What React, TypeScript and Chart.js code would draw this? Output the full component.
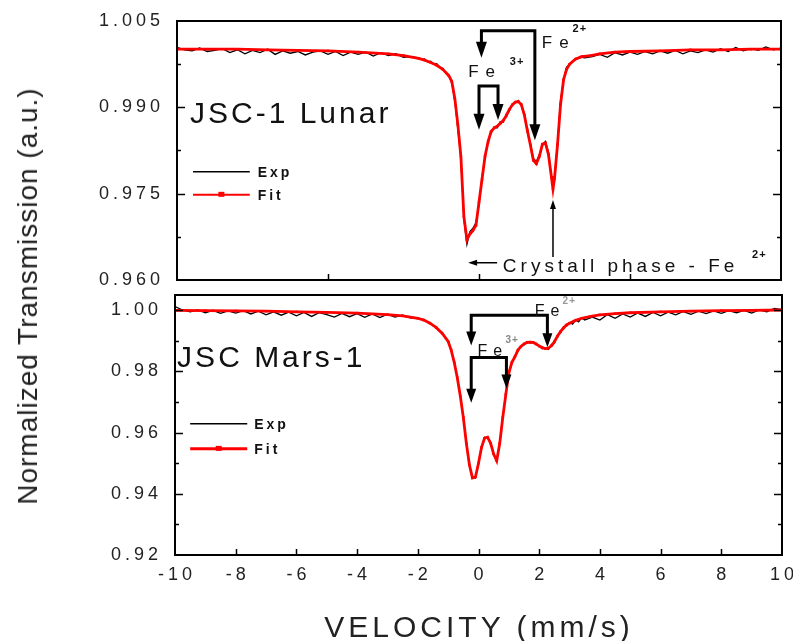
import React, { useEffect, useRef } from 'react';
import { Chart, registerables } from 'chart.js';

Chart.register(...registerables);

const FONT = '"Liberation Sans", Arial, Helvetica, sans-serif';

// ---------- data ----------
const expVelocity = [
  -10, -9.75, -9.5, -9.25, -9, -8.75, -8.5, -8.25, -8, -7.75, -7.5, -7.25, -7, -6.75, -6.5, -6.25,
  -6, -5.75, -5.5, -5.25, -5, -4.75, -4.5, -4.25, -4, -3.75, -3.5, -3.25, -3, -2.75, -2.5, -2.25,
  -2.0, -1.9, -1.8, -1.7, -1.6, -1.5, -1.4, -1.3, -1.2, -1.1,
  -1.0, -0.9, -0.8, -0.7, -0.6, -0.5, -0.4, -0.3, -0.2, -0.1,
  0.0, 0.1, 0.2, 0.3, 0.4, 0.5, 0.6, 0.7, 0.8, 0.9,
  1.0, 1.1, 1.2, 1.3, 1.4, 1.5, 1.6, 1.7, 1.8, 1.9,
  2.0, 2.1, 2.2, 2.3, 2.4, 2.5, 2.6, 2.7, 2.8, 2.9,
  3.0, 3.1, 3.2, 3.3, 3.4, 3.5,
  3.75, 4.0, 4.25, 4.5, 4.75, 5.0, 5.25, 5.5, 5.75, 6.0, 6.25, 6.5, 6.75,
  7.0, 7.25, 7.5, 7.75, 8.0, 8.25, 8.5, 8.75, 9.0, 9.25, 9.5, 9.75, 10.0,
];

const lunarExp = [
  1.0004, 1.0000, 0.9998, 1.0003, 0.9997, 0.9999, 1.0002, 0.9995, 1.0000, 0.9993, 0.9999, 0.9995, 1.0001, 0.9992, 0.9998, 0.9994,
  0.9997, 0.9991, 0.9996, 0.9998, 0.9992, 0.9997, 0.9990, 0.9996, 0.9992, 0.9996, 0.9989, 0.9995, 0.9990, 0.9993, 0.9987, 0.9988,
  0.9986, 0.9983, 0.9984, 0.9979, 0.9980, 0.9975, 0.9976, 0.9970, 0.9968, 0.9960,
  0.9955, 0.9942, 0.9912, 0.9862, 0.9812, 0.9705, 0.9662, 0.9684, 0.9690, 0.9700,
  0.9730, 0.9780, 0.9812, 0.9843, 0.9855, 0.9866, 0.9864, 0.9875, 0.9874, 0.9888,
  0.9893, 0.9906, 0.9908, 0.9912, 0.9903, 0.9889, 0.9857, 0.9838, 0.9811, 0.9806,
  0.9818, 0.9835, 0.9841, 0.9822, 0.9780, 0.9778, 0.9838, 0.9912, 0.9948, 0.9970,
  0.9974, 0.9980, 0.9983, 0.9985, 0.9987, 0.9986,
  0.9988, 0.9992, 0.9987, 0.9995, 0.9991, 0.9996, 0.9992, 0.9997, 0.9993, 0.9998, 0.9994, 0.9999, 0.9993,
  0.9998, 0.9995, 1.0000, 0.9996, 1.0002, 0.9997, 1.0004, 0.9998, 1.0002, 0.9999, 1.0005, 1.0000, 1.0003,
];

const marsExp = [
  1.0012, 1.0001, 0.9995, 1.0001, 0.9992, 1.0000, 0.9990, 0.9998, 0.9991, 0.9999, 0.9988, 0.9997, 0.9985, 0.9995, 0.9984, 0.9994,
  0.9982, 0.9993, 0.9980, 0.9992, 0.9986, 0.9978, 0.9990, 0.9979, 0.9989, 0.9977, 0.9988, 0.9976, 0.9987, 0.9978, 0.9984, 0.9975,
  0.9976, 0.9971, 0.9970, 0.9963, 0.9960, 0.9950, 0.9946, 0.9934, 0.9928, 0.9912,
  0.9900, 0.9868, 0.9832, 0.9778, 0.9722, 0.9648, 0.9568, 0.9492, 0.9455, 0.9452,
  0.9503, 0.9549, 0.9585, 0.9582, 0.9568, 0.9527, 0.9512, 0.9562, 0.9653, 0.9722,
  0.9798, 0.9827, 0.9852, 0.9866, 0.9885, 0.9887, 0.9898, 0.9893, 0.9897, 0.9887,
  0.9885, 0.9874, 0.9878, 0.9872, 0.9887, 0.9893, 0.9918, 0.9926, 0.9945, 0.9948,
  0.9960, 0.9955, 0.9969, 0.9962, 0.9976, 0.9968,
  0.9978, 0.9968, 0.9986, 0.9974, 0.9988, 0.9978, 0.9991, 0.9980, 0.9993, 0.9982, 0.9994, 0.9985, 0.9996,
  0.9987, 0.9997, 0.9989, 0.9998, 0.9990, 0.9999, 0.9992, 1.0000, 0.9991, 1.0001, 0.9995, 1.0006, 1.0002,
];

const fitVelocity = [
  -10, -9, -8, -7, -6, -5, -4, -3, -2.5, -2, -1.8, -1.6, -1.4, -1.2,
  -1.0, -0.9, -0.8, -0.7, -0.6, -0.5, -0.4, -0.3, -0.2, -0.1,
  0.0, 0.1, 0.2, 0.3, 0.4, 0.5, 0.6, 0.7, 0.8, 0.9,
  1.0, 1.1, 1.2, 1.3, 1.4, 1.5, 1.6, 1.7, 1.8, 1.9,
  2.0, 2.1, 2.2, 2.3, 2.4, 2.45, 2.5, 2.6, 2.7, 2.8, 2.9,
  3.0, 3.2, 3.4, 3.7, 4, 4.5, 5, 6, 7, 8, 9, 10,
];

const lunarFit = [
  1.0001, 1.0001, 1.0001, 1.0000, 0.9999, 0.9998, 0.9996, 0.9993, 0.9990, 0.9985, 0.9982, 0.9978, 0.9973, 0.9966,
  0.9955, 0.9945, 0.9915, 0.9870, 0.9815, 0.9710, 0.9670, 0.9680, 0.9686, 0.9695,
  0.9735, 0.9775, 0.9815, 0.9840, 0.9858, 0.9864, 0.9867, 0.9872, 0.9877, 0.9885,
  0.9896, 0.9904, 0.9909, 0.9910, 0.9905, 0.9887, 0.9860, 0.9835, 0.9808, 0.9802,
  0.9815, 0.9836, 0.9838, 0.9818, 0.9778, 0.9758, 0.9776, 0.9835, 0.9905, 0.9948, 0.9966,
  0.9975, 0.9984, 0.9988, 0.9990, 0.9993, 0.9996, 0.9997, 0.9998, 1.0000, 1.0000, 1.0001, 1.0001,
];

const marsFit = [
  1.0000, 0.9999, 0.9998, 0.9997, 0.9995, 0.9993, 0.9991, 0.9986, 0.9982, 0.9974, 0.9968, 0.9958, 0.9944, 0.9925,
  0.9898, 0.9870, 0.9830, 0.9780, 0.9720, 0.9650, 0.9565, 0.9495, 0.9452, 0.9455,
  0.9500, 0.9552, 0.9582, 0.9585, 0.9565, 0.9530, 0.9508, 0.9565, 0.9650, 0.9725,
  0.9795, 0.9830, 0.9848, 0.9870, 0.9882, 0.9890, 0.9895, 0.9896, 0.9895, 0.9890,
  0.9883, 0.9878, 0.9875, 0.9876, 0.9884, 0.9890, 0.9897, 0.9915, 0.9930, 0.9942, 0.9952,
  0.9958, 0.9967, 0.9974, 0.9980, 0.9985, 0.9989, 0.9992, 0.9995, 0.9997, 0.9999, 1.0000, 1.0001,
];

const lunarYTicks = [0.96, 0.975, 0.99, 1.005];
const lunarYMinor = [0.9675, 0.9825, 0.9975];
const lunarXTicks = [-5, 0, 5];
const marsYTicks = [0.92, 0.94, 0.96, 0.98, 1.0];
const marsYMinor = [0.93, 0.95, 0.97, 0.99];
const marsXTicks = [-10, -8, -6, -4, -2, 0, 2, 4, 6, 8, 10];

// annotation anchors (data coordinates)
const lunarBrackets = [
  { x1: 0.08, x2: 1.85, top: 1.0033, tip1: 0.9986, tip2: 0.9843 },
  { x1: 0.0, x2: 0.63, top: 0.9937, tip1: 0.9861, tip2: 0.9878 },
];
const marsBrackets = [
  { x1: -0.24, x2: 2.27, top: 0.9984, tip1: 0.9885, tip2: 0.9879 },
  { x1: -0.24, x2: 0.92, top: 0.9846, tip1: 0.9698, tip2: 0.9744 },
];
const lunarArrows = [
  { x1: 2.45, y1: 0.9640, x2: 2.45, y2: 0.9739 },
  { x1: 0.6, y1: 0.9630, x2: -0.36, y2: 0.9630 },
];
const lunarTexts = [
  { x: 2.08, y: 1.0003, text: 'Fe', size: 17, spacing: 7, weight: 'normal', color: '#111' },
  { x: 3.1, y: 1.0031, text: '2+', size: 11, spacing: 1, weight: 'bold', color: '#111' },
  { x: -0.36, y: 0.9953, text: 'Fe', size: 17, spacing: 7, weight: 'normal', color: '#111' },
  { x: 1.02, y: 0.9974, text: '3+', size: 11, spacing: 1, weight: 'bold', color: '#111' },
  { x: 0.79, y: 0.9614, text: 'Crystall phase - Fe', size: 19, spacing: 4, weight: 'normal', color: '#111' },
  { x: 9.04, y: 0.9638, text: '2+', size: 11, spacing: 1, weight: 'bold', color: '#111' },
  { x: -9.57, y: 0.9873, text: 'JSC-1 Lunar', size: 30, spacing: 3, weight: 'normal', color: '#111' },
];
const marsTexts = [
  { x: 1.85, y: 0.9980, text: 'Fe', size: 16, spacing: 6, weight: 'normal', color: '#111' },
  { x: 2.77, y: 1.0020, text: '2+', size: 10, spacing: 1, weight: 'bold', color: '#999' },
  { x: -0.03, y: 0.9852, text: 'Fe', size: 16, spacing: 6, weight: 'normal', color: '#111' },
  { x: 0.89, y: 0.9892, text: '3+', size: 10, spacing: 1, weight: 'bold', color: '#888' },
  { x: -9.93, y: 0.9816, text: 'JSC Mars-1', size: 30, spacing: 3, weight: 'normal', color: '#111' },
];
const legendLabels = ['Exp', 'Fit'];
const lunarLegend = { x1: -9.47, x2: -7.59, tx: -7.33, yExp: 0.9788, yFit: 0.9748, fitW: 2 };
const marsLegend = { x1: -9.5, x2: -7.62, tx: -7.39, yExp: 0.9629, yFit: 0.9547, fitW: 3 };

// ---------- drawing helpers ----------
function head(ctx: CanvasRenderingContext2D, tx: number, ty: number, dx: number, dy: number, len: number, w: number) {
  const bx = tx - dx * len;
  const by = ty - dy * len;
  const nx = -dy;
  const ny = dx;
  ctx.beginPath();
  ctx.moveTo(tx, ty);
  ctx.lineTo(bx + (nx * w) / 2, by + (ny * w) / 2);
  ctx.lineTo(bx - (nx * w) / 2, by - (ny * w) / 2);
  ctx.closePath();
  ctx.fill();
}

function text(ctx: CanvasRenderingContext2D, s: string, x: number, y: number, size: number, spacing: number, weight: string, color: string) {
  ctx.font = `${weight} ${size}px ${FONT}`;
  (ctx as any).letterSpacing = `${spacing}px`;
  ctx.fillStyle = color;
  ctx.textAlign = 'left';
  ctx.textBaseline = 'alphabetic';
  ctx.fillText(s, x, y);
}

function makeOverlay(cfg: any) {
  return {
    id: 'overlay',
    beforeDraw(chart: any) {
      chart.ctx.letterSpacing = '4px';
    },
    afterDatasetsDraw(chart: any) {
      const { ctx, chartArea: a, scales } = chart;
      const x = scales.x;
      const y = scales.y;
      ctx.save();
      (ctx as any).letterSpacing = '0px';
      ctx.strokeStyle = '#000';
      ctx.lineWidth = 2;
      ctx.strokeRect(a.left, a.top, a.right - a.left, a.bottom - a.top);
      ctx.lineWidth = 1.5;
      const line = (x1: number, y1: number, x2: number, y2: number) => {
        ctx.beginPath();
        ctx.moveTo(x1, y1);
        ctx.lineTo(x2, y2);
        ctx.stroke();
      };
      cfg.yMajor.forEach((v: number) => {
        const p = Math.round(y.getPixelForValue(v)) + 0.5;
        if (p <= a.top + 2 || p >= a.bottom - 2) return;
        line(a.left, p, a.left + 8, p);
        line(a.right, p, a.right - 8, p);
      });
      cfg.yMinor.forEach((v: number) => {
        const p = Math.round(y.getPixelForValue(v)) + 0.5;
        line(a.left, p, a.left + 4, p);
        line(a.right, p, a.right - 4, p);
      });
      cfg.xMajor.forEach((v: number) => {
        const p = Math.round(x.getPixelForValue(v)) + 0.5;
        if (p <= a.left + 2 || p >= a.right - 2) return;
        line(p, a.bottom, p, a.bottom - 6);
      });
      ctx.restore();
    },
    afterDraw(chart: any) {
      const { ctx, scales } = chart;
      const x = scales.x;
      const y = scales.y;
      const px = (v: number) => x.getPixelForValue(v);
      const py = (v: number) => y.getPixelForValue(v);
      ctx.save();
      ctx.fillStyle = '#000';
      ctx.strokeStyle = '#000';
      cfg.brackets.forEach((b: any) => {
        const hl = cfg.headLen;
        const hw = cfg.headW;
        const X1 = px(b.x1);
        const X2 = px(b.x2);
        const T = py(b.top);
        const T1 = py(b.tip1);
        const T2 = py(b.tip2);
        ctx.lineWidth = 3;
        ctx.lineJoin = 'miter';
        ctx.lineCap = 'butt';
        ctx.beginPath();
        ctx.moveTo(X1, T1 - hl + 1);
        ctx.lineTo(X1, T);
        ctx.lineTo(X2, T);
        ctx.lineTo(X2, T2 - hl + 1);
        ctx.stroke();
        head(ctx, X1, T1, 0, 1, hl, hw);
        head(ctx, X2, T2, 0, 1, hl, hw);
      });
      (cfg.arrows || []).forEach((r: any) => {
        const X1 = px(r.x1);
        const Y1 = py(r.y1);
        const X2 = px(r.x2);
        const Y2 = py(r.y2);
        const L = Math.hypot(X2 - X1, Y2 - Y1);
        const dx = (X2 - X1) / L;
        const dy = (Y2 - Y1) / L;
        ctx.lineWidth = 1.5;
        ctx.beginPath();
        ctx.moveTo(X1, Y1);
        ctx.lineTo(X2 - dx * 6, Y2 - dy * 6);
        ctx.stroke();
        head(ctx, X2, Y2, dx, dy, 9, 6);
      });
      cfg.texts.forEach((t: any) => {
        text(ctx, t.text, px(t.x), py(t.y), t.size, t.spacing, t.weight, t.color);
      });
      const lg = cfg.legend;
      const lx1 = px(lg.x1);
      const lx2 = px(lg.x2);
      const ye = py(lg.yExp);
      const yf = py(lg.yFit);
      ctx.lineWidth = 1.5;
      ctx.strokeStyle = '#000';
      ctx.beginPath();
      ctx.moveTo(lx1, ye);
      ctx.lineTo(lx2, ye);
      ctx.stroke();
      ctx.strokeStyle = '#ff0000';
      ctx.fillStyle = '#ff0000';
      ctx.lineWidth = lg.fitW;
      ctx.beginPath();
      ctx.moveTo(lx1, yf);
      ctx.lineTo(lx2, yf);
      ctx.stroke();
      const mx = (lx1 + lx2) / 2;
      ctx.fillRect(mx - 3, yf - 3, 6, 5);
      text(ctx, legendLabels[0], px(lg.tx), ye + 5, 14, 3, 'bold', '#111');
      text(ctx, legendLabels[1], px(lg.tx), yf + 5, 14, 3, 'bold', '#111');
      ctx.restore();
    },
  };
}

function buildConfig(opts: any): any {
  const exp = expVelocity.map((v, i) => ({ x: v, y: opts.exp[i] }));
  const fit = fitVelocity.map((v, i) => ({ x: v, y: opts.fit[i] }));
  return {
    type: 'line',
    data: {
      datasets: [
        {
          label: 'Fit',
          data: fit,
          borderColor: '#ff0000',
          backgroundColor: '#ff0000',
          borderWidth: 2.8,
          pointStyle: 'rect',
          pointRadius: 1.7,
          pointBorderWidth: 0,
          pointBackgroundColor: '#ff0000',
          tension: 0,
        },
        {
          label: 'Exp',
          data: exp,
          borderColor: '#000000',
          borderWidth: 1.3,
          pointRadius: 0,
          tension: 0,
        },
      ],
    },
    options: {
      responsive: false,
      animation: false,
      events: [],
      layout: { padding: opts.padding },
      plugins: { legend: { display: false }, tooltip: { enabled: false } },
      scales: {
        x: {
          type: 'linear',
          min: -10,
          max: 10,
          display: opts.showX,
          afterBuildTicks: (s: any) => {
            s.ticks = marsXTicks.map((v) => ({ value: v }));
          },
          afterFit: (s: any) => {
            s.paddingLeft = 0;
            s.paddingRight = 0;
            if (opts.showX) s.height = opts.xHeight;
          },
          grid: { display: false, drawTicks: false },
          border: { display: false },
          ticks: {
            font: { family: FONT, size: 18 },
            color: '#222',
            padding: 9,
            maxRotation: 0,
            autoSkip: false,
            labelOffset: 2,
            callback: (v: any) => String(v),
          },
        },
        y: {
          type: 'linear',
          min: opts.yMin,
          max: opts.yMax,
          afterBuildTicks: (s: any) => {
            s.ticks = opts.yTicks.map((v: number) => ({ value: v }));
          },
          afterFit: (s: any) => {
            s.width = opts.yWidth;
            s.paddingTop = 0;
            s.paddingBottom = 0;
          },
          grid: { display: false, drawTicks: false },
          border: { display: false },
          ticks: {
            font: { family: FONT, size: 18 },
            color: '#222',
            padding: 13,
            autoSkip: false,
            callback: (v: any) => Number(v).toFixed(opts.decimals),
          },
        },
      },
    },
    plugins: [makeOverlay(opts.overlay)],
  };
}

function Panel({ top, height, opts }: { top: number; height: number; opts: any }) {
  const ref = useRef<HTMLCanvasElement>(null);
  useEffect(() => {
    const chart = new Chart(ref.current as HTMLCanvasElement, buildConfig(opts));
    return () => chart.destroy();
  }, []);
  return (
    <canvas
      ref={ref}
      width={793}
      height={height}
      style={{ position: 'absolute', left: 0, top, width: 793, height }}
    />
  );
}

const lunarOpts = {
  exp: lunarExp,
  fit: lunarFit,
  yMin: 0.96,
  yMax: 1.005,
  yTicks: lunarYTicks,
  decimals: 3,
  yWidth: 177,
  showX: false,
  xHeight: 0,
  padding: { left: 0, top: 21, right: 12, bottom: 12 },
  overlay: {
    yMajor: lunarYTicks,
    yMinor: lunarYMinor,
    xMajor: lunarXTicks,
    brackets: lunarBrackets,
    arrows: lunarArrows,
    texts: lunarTexts,
    legend: lunarLegend,
    headLen: 16,
    headW: 11,
  },
};

const marsOpts = {
  exp: marsExp,
  fit: marsFit,
  yMin: 0.92,
  yMax: 1.005,
  yTicks: marsYTicks,
  decimals: 2,
  yWidth: 175,
  showX: true,
  xHeight: 86,
  padding: { left: 0, top: 13, right: 11, bottom: 0 },
  overlay: {
    yMajor: marsYTicks,
    yMinor: marsYMinor,
    xMajor: marsXTicks,
    brackets: marsBrackets,
    arrows: [],
    texts: marsTexts,
    legend: marsLegend,
    headLen: 14,
    headW: 10,
  },
};

export default function App() {
  return (
    <div style={{ position: 'absolute', left: 0, top: 0, width: 793, height: 641, background: '#fff', overflow: 'hidden' }}>
      <Panel top={0} height={292} opts={lunarOpts} />
      <Panel top={282} height={359} opts={marsOpts} />
      <div
        style={{
          position: 'absolute',
          left: 28,
          top: 296,
          transform: 'translate(-50%, -50%) rotate(-90deg)',
          whiteSpace: 'nowrap',
          fontFamily: FONT,
          fontSize: 28,
          letterSpacing: 1,
          color: '#222',
          lineHeight: 1,
        }}
      >
        Normalized Transmission (a.u.)
      </div>
      <div
        style={{
          position: 'absolute',
          left: 479,
          top: 627,
          transform: 'translate(-50%, -50%)',
          whiteSpace: 'nowrap',
          fontFamily: FONT,
          fontSize: 30,
          letterSpacing: 4,
          color: '#222',
          lineHeight: 1,
        }}
      >
        VELOCITY (mm/s)
      </div>
    </div>
  );
}
